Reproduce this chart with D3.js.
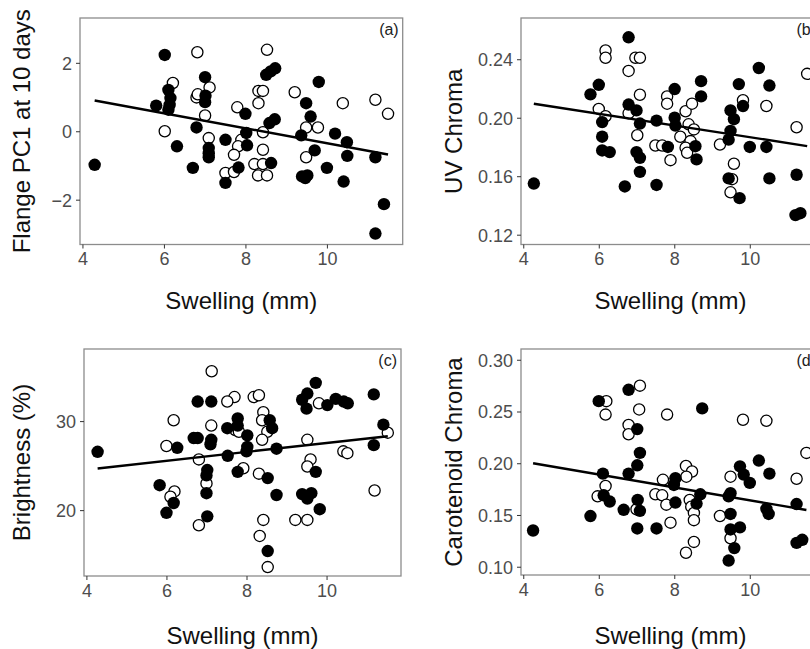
<!DOCTYPE html>
<html>
<head>
  <meta charset="utf-8">
  <script src="https://d3js.org/d3.v7.min.js"></script>
  <style>
    body { margin: 0; background: #fff; }
    svg { font-family: "Liberation Sans", Arial, sans-serif; display: block; }
    .tick text { fill: #4d4d4d; font-size: 18px; }
    .tick line { stroke: #333; }
    .title { font-size: 24px; fill: #111; }
    .tag { font-size: 16px; fill: #222; }
  </style>
</head>
<body>
  <svg width="810" height="649"></svg>

  <script>
    // x ticks shared by all panels
    const xTicks = [4, 6, 8, 10];

    // (a) Flange PC1 at 10 days
    const aFillX = [4.30, 6.02, 8.51, 8.62, 8.73, 7.01, 9.80, 6.11, 6.16, 6.14, 7.02, 7.01, 9.49, 5.81, 6.11, 8.00,
      8.72, 8.59, 9.60, 6.80, 8.02, 9.37, 10.20, 10.49, 7.51, 8.04, 6.32, 7.10, 7.10, 7.10, 9.70, 10.50, 11.19,
      8.63, 6.71, 7.83, 10.00, 7.51, 9.39, 9.52, 9.47, 10.41, 11.40, 11.19];
    const aFillY = [-0.98, 2.23, 1.65, 1.75, 1.84, 1.58, 1.44, 1.21, 0.97, 0.77, 1.04, 0.85, 0.82, 0.75, 0.63, 0.51,
      0.35, 0.24, 0.43, 0.11, -0.05, -0.12, -0.07, -0.32, -0.25, -0.41, -0.44, -0.49, -0.64, -0.76, -0.56, -0.72, -0.76,
      -0.93, -1.07, -1.06, -1.07, -1.51, -1.32, -1.29, -1.37, -1.47, -2.13, -2.99];
    const aOpenX = [6.82, 8.53, 6.22, 7.12, 6.80, 6.83, 8.32, 8.43, 8.32, 9.21, 10.39, 11.19, 11.50, 7.80, 7.01, 6.02,
      9.78, 9.49, 8.43, 7.10, 7.90, 7.82, 7.72, 8.43, 9.49, 8.22, 8.43, 7.51, 7.72, 8.31, 8.53];
    const aOpenY = [2.31, 2.38, 1.41, 1.28, 0.99, 1.08, 1.18, 1.18, 0.82, 1.14, 0.82, 0.92, 0.51, 0.70, 0.46, 0.00,
      0.11, 0.11, -0.03, -0.20, -0.25, -0.44, -0.69, -0.54, -0.76, -0.96, -0.96, -1.22, -1.19, -1.29, -1.29];
    const aFit = [1.84, -0.219];
    const aTicks = [-2, 0, 2];

    // (b) UV Chroma
    const bFillX = [4.28, 6.79, 10.24, 6.00, 5.78, 8.71, 9.71, 10.52, 8.01, 8.71, 9.82, 6.79, 7.00, 6.09, 7.09,
      7.53, 8.01, 8.03, 8.56, 8.59, 9.49, 9.58, 9.49, 9.44, 10.00, 10.44, 7.83, 6.09, 6.09, 6.29, 7.00, 7.09, 7.09,
      9.44, 9.73, 6.69, 7.53, 10.52, 11.24, 11.21, 11.34];
    const bFillY = [0.155, 0.255, 0.234, 0.2225, 0.216, 0.225, 0.223, 0.222, 0.2196, 0.2146, 0.208, 0.209, 0.205,
      0.197, 0.196, 0.198, 0.200, 0.1946, 0.1805, 0.1715, 0.205, 0.199, 0.191, 0.185, 0.180, 0.180, 0.180, 0.187,
      0.1776, 0.1765, 0.1765, 0.1726, 0.163, 0.1585, 0.145, 0.153, 0.154, 0.1585, 0.161, 0.1334, 0.1347];
    const bOpenX = [6.18, 6.18, 6.97, 7.09, 6.79, 11.52, 7.09, 7.81, 7.81, 9.82, 10.44, 6.00, 6.18, 6.79, 8.30, 8.47,
      8.16, 8.38, 8.52, 8.43, 8.30, 8.34, 11.24, 7.02, 7.50, 7.68, 9.21, 7.90, 9.58, 9.53, 9.49];
    const bOpenY = [0.246, 0.241, 0.241, 0.241, 0.232, 0.230, 0.2157, 0.2146, 0.2096, 0.212, 0.208, 0.206, 0.201,
      0.203, 0.2044, 0.2096, 0.187, 0.1955, 0.192, 0.184, 0.1795, 0.176, 0.1935, 0.188, 0.181, 0.181, 0.1817, 0.171,
      0.1685, 0.158, 0.149];
    const bFit = [0.2267, -0.0040];
    const bTicks = [0.12, 0.16, 0.20, 0.24];

    // (c) Brightness (%)
    const cFillX = [4.28, 9.73, 6.78, 7.12, 9.39, 9.52, 9.50, 10.02, 10.23, 10.43, 10.53, 11.18, 8.58, 8.64, 7.78,
      7.78, 7.52, 8.02, 11.42, 11.18, 6.68, 6.78, 7.12, 7.10, 6.27, 8.02, 8.00, 8.75, 7.53, 7.78, 9.73, 8.53, 7.02,
      7.00, 7.00, 5.83, 6.18, 6.00, 7.02, 8.75, 9.39, 9.62, 9.52, 9.83, 8.53];
    const cFillY = [26.55, 34.3, 32.2, 32.2, 32.4, 33.1, 31.4, 31.8, 32.5, 32.2, 32.0, 33.0, 30.1, 29.2, 30.3, 29.5,
      29.2, 28.4, 29.6, 27.3, 28.1, 28.1, 27.9, 27.4, 27.0, 27.1, 26.6, 26.9, 26.1, 24.3, 24.3, 23.6, 24.5, 23.9,
      21.9, 22.8, 20.8, 19.7, 19.3, 21.7, 21.8, 21.9, 21.3, 20.1, 15.4];
    const cOpenX = [7.13, 7.70, 7.52, 8.18, 8.31, 9.81, 6.18, 8.42, 8.39, 7.12, 7.72, 7.81, 8.52, 8.39, 11.53, 6.00,
      9.52, 10.42, 10.52, 6.81, 7.92, 9.60, 9.52, 8.31, 7.00, 6.20, 6.10, 6.81, 11.20, 8.42, 9.22, 9.52, 8.33, 8.53];
    const cOpenY = [35.6, 32.7, 32.2, 32.7, 32.9, 32.0, 30.1, 31.0, 30.1, 29.5, 29.0, 28.8, 28.8, 27.9, 28.7, 27.2,
      27.9, 26.6, 26.4, 25.7, 24.7, 25.7, 24.9, 24.1, 23.0, 22.1, 21.5, 18.3, 22.2, 18.9, 18.9, 18.9, 17.1, 13.6];
    const cFit = [22.54, 0.50];
    const cTicks = [20, 30];

    // (d) Carotenoid Chroma
    const dFillX = [4.26, 6.79, 6.00, 8.74, 7.02, 7.09, 7.02, 6.11, 6.79, 10.24, 9.74, 9.84, 10.00, 10.52, 8.03,
      7.99, 6.13, 6.29, 7.03, 7.09, 6.66, 8.03, 8.69, 8.59, 9.44, 9.49, 10.44, 10.50, 11.24, 5.78, 9.49, 7.02, 7.53,
      9.49, 9.74, 9.59, 9.44, 11.24, 11.39];
    const dFillY = [0.135, 0.271, 0.260, 0.253, 0.233, 0.210, 0.198, 0.190, 0.190, 0.2026, 0.197, 0.189, 0.181,
      0.190, 0.1855, 0.179, 0.169, 0.163, 0.1645, 0.154, 0.155, 0.162, 0.170, 0.161, 0.168, 0.171, 0.156, 0.151,
      0.1606, 0.149, 0.151, 0.137, 0.137, 0.136, 0.138, 0.118, 0.106, 0.123, 0.126];
    const dOpenX = [7.09, 6.20, 6.18, 7.07, 7.81, 9.82, 10.44, 6.79, 6.79, 11.50, 11.24, 8.31, 8.47, 8.32, 7.70,
      9.49, 6.18, 5.97, 7.50, 7.68, 7.00, 7.79, 8.41, 8.45, 8.52, 8.52, 9.21, 7.90, 9.49, 8.52, 8.31];
    const dOpenY = [0.275, 0.260, 0.247, 0.252, 0.247, 0.242, 0.241, 0.237, 0.228, 0.210, 0.185, 0.1974, 0.192,
      0.187, 0.184, 0.187, 0.178, 0.168, 0.170, 0.169, 0.1555, 0.160, 0.1645, 0.158, 0.152, 0.145, 0.149, 0.1426,
      0.1275, 0.124, 0.1135];
    const dFit = [0.2265, -0.00623];
    const dTicks = [0.10, 0.15, 0.20, 0.25, 0.30];

    const svg = d3.select("svg");
    const xDomain = [3.94, 11.86];

    const panels = [
      { tag: "(a)", ytitle: "Flange PC1 at 10 days", fx: aFillX, fy: aFillY, ox: aOpenX, oy: aOpenY, fit: aFit,
        ticks: aTicks, fmt: d3.format("d"), yDomain: [-3.31, 3.31], left: 80, right: 402.7, top: 18, bottom: 244.5,
        titleX: 22, xTitleY: 309 },
      { tag: "(b)", ytitle: "UV Chroma", fx: bFillX, fy: bFillY, ox: bOpenX, oy: bOpenY, fit: bFit,
        ticks: bTicks, fmt: d3.format(".2f"), yDomain: [0.1133, 0.2682], left: 521, right: 820, top: 18, bottom: 244.5,
        titleX: 454, xTitleY: 309 },
      { tag: "(c)", ytitle: "Brightness (%)", fx: cFillX, fy: cFillY, ox: cOpenX, oy: cOpenY, fit: cFit,
        ticks: cTicks, fmt: d3.format("d"), yDomain: [12.6, 38.1], left: 84, right: 401, top: 349, bottom: 576,
        titleX: 22, xTitleY: 644 },
      { tag: "(d)", ytitle: "Carotenoid Chroma", fx: dFillX, fy: dFillY, ox: dOpenX, oy: dOpenY, fit: dFit,
        ticks: dTicks, fmt: d3.format(".2f"), yDomain: [0.092, 0.3104], left: 521, right: 820, top: 349, bottom: 575,
        titleX: 454, xTitleY: 644 }
    ];

    panels.forEach(p => {
      const x = d3.scaleLinear().domain(xDomain).range([p.left, p.right]);
      const y = d3.scaleLinear().domain(p.yDomain).range([p.bottom, p.top]);
      const g = svg.append("g");

      // points: filled and open, open drawn second
      const filled = p.fx.map((v, i) => [v, p.fy[i]]);
      const open = p.ox.map((v, i) => [v, p.oy[i]]);

      g.selectAll(".open")
        .data(open)
        .enter()
        .append("circle")
        .attr("cx", d => x(d[0]))
        .attr("cy", d => y(d[1]))
        .attr("r", 5.6)
        .attr("fill", "#fff")
        .attr("stroke", "#000")
        .attr("stroke-width", 1.3);

      g.selectAll(".filled")
        .data(filled)
        .enter()
        .append("circle")
        .attr("cx", d => x(d[0]))
        .attr("cy", d => y(d[1]))
        .attr("r", 6.2)
        .attr("fill", "#000");

      // fitted line over the data range
      const xr = d3.extent(p.fx.concat(p.ox));
      const line = d3.line().x(d => x(d)).y(d => y(p.fit[0] + p.fit[1] * d));
      g.append("path")
        .attr("d", line(xr))
        .attr("fill", "none")
        .attr("stroke", "#000")
        .attr("stroke-width", 2.4);

      // panel border
      g.append("rect")
        .attr("x", p.left)
        .attr("y", p.top)
        .attr("width", p.right - p.left)
        .attr("height", p.bottom - p.top)
        .attr("fill", "none")
        .attr("stroke", "#8c8c8c")
        .attr("stroke-width", 1.3);

      // axes
      g.append("g")
        .attr("transform", `translate(0,${p.bottom})`)
        .call(d3.axisBottom(x).tickValues(xTicks).tickSize(4).tickPadding(4))
        .call(a => a.select(".domain").remove());

      g.append("g")
        .attr("transform", `translate(${p.left},0)`)
        .call(d3.axisLeft(y).tickValues(p.ticks).tickFormat(p.fmt).tickSize(4).tickPadding(4))
        .call(a => a.select(".domain").remove())
        .selectAll("text").attr("dy", "0.36em");

      // panel tag
      g.append("text")
        .attr("class", "tag")
        .attr("x", p.right - 4)
        .attr("y", p.top + 17)
        .attr("text-anchor", "end")
        .text(p.tag);

      // axis titles
      g.append("text")
        .attr("class", "title")
        .attr("x", (p.left + p.right) / 2)
        .attr("y", p.xTitleY)
        .attr("text-anchor", "middle")
        .text("Swelling (mm)");

      g.append("text")
        .attr("class", "title")
        .attr("transform", `translate(${p.titleX},${(p.top + p.bottom) / 2}) rotate(-90)`)
        .attr("text-anchor", "middle")
        .attr("dy", "0.35em")
        .text(p.ytitle);
    });
  </script>
</body>
</html>
